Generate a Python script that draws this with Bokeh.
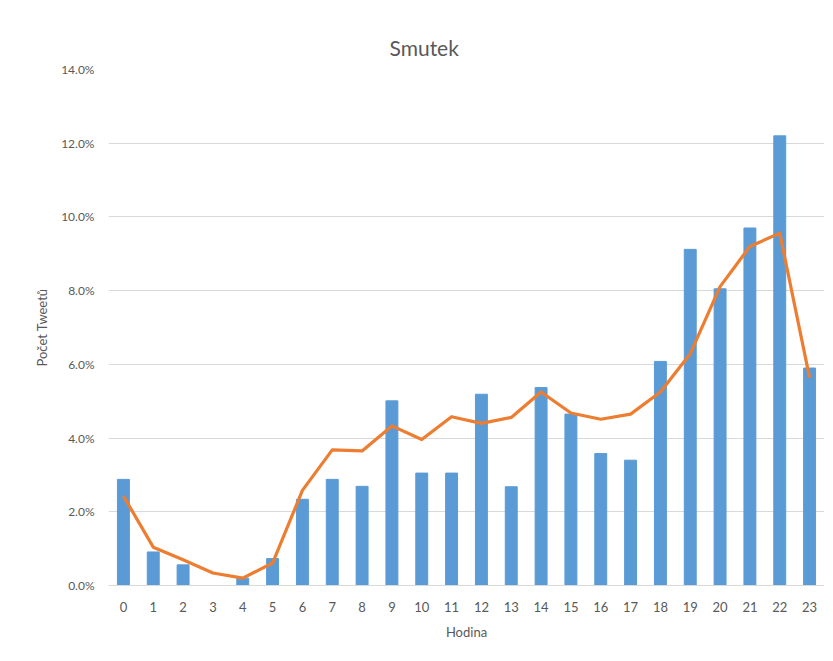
from bokeh.plotting import figure
from bokeh.models import Range1d, FactorRange, PrintfTickFormatter
from bokeh.embed import file_html
from bokeh.resources import INLINE

hours = [str(h) for h in range(24)]
bar_values = [2.88, 0.91, 0.56, 0.0, 0.20, 0.73, 2.34, 2.88, 2.69, 5.01,
              3.05, 3.05, 5.19, 2.68, 5.37, 4.65, 3.58, 3.40, 6.08, 9.12,
              8.05, 9.70, 12.20, 5.90]
line_values = [2.43, 1.04, 0.70, 0.34, 0.20, 0.61, 2.58, 3.68, 3.65, 4.33,
               3.96, 4.58, 4.40, 4.56, 5.25, 4.68, 4.51, 4.65, 5.25, 6.29,
               8.11, 9.20, 9.56, 5.64]
y_ticks = [0, 2, 4, 6, 8, 10, 12, 14]

FONT = "Lato"
GREY = "#595959"

p = figure(width=824, height=645, output_backend="svg", toolbar_location=None,
           x_range=FactorRange(*hours, range_padding=0),
           y_range=Range1d(0, 14),
           min_border_left=108, min_border_right=0,
           min_border_top=69, min_border_bottom=60,
           title="Smutek")

p.vbar(x=hours, top=bar_values, width=0.4, color="#5B9BD5")
p.line(x=hours, y=line_values, line_width=3.2, color="#ED7D31", line_join="round")

p.outline_line_color = None
p.title.text_font = FONT
p.title.text_font_size = "21px"
p.title.text_font_style = "normal"
p.title.text_color = GREY
p.title.align = "left"
p.title.offset = 281
p.title.standoff = 20

p.xgrid.grid_line_color = None
p.ygrid.grid_line_color = "#D9D9D9"
p.ygrid.ticker = y_ticks

p.yaxis.ticker = y_ticks
p.yaxis.formatter = PrintfTickFormatter(format="%.1f%%")
p.yaxis.axis_line_color = None
p.yaxis.major_tick_line_color = None
p.yaxis.minor_tick_line_color = None
p.yaxis.major_label_standoff = 8
p.yaxis.major_label_text_font = FONT
p.yaxis.major_label_text_font_size = "12px"
p.yaxis.major_label_text_color = GREY
p.yaxis.axis_label = "Počet Tweetů"
p.yaxis.axis_label_text_font = FONT
p.yaxis.axis_label_text_font_size = "13px"
p.yaxis.axis_label_text_font_style = "normal"
p.yaxis.axis_label_text_color = GREY
p.yaxis.axis_label_standoff = 8

p.xaxis.axis_line_color = "#D9D9D9"
p.xaxis.major_tick_line_color = None
p.xaxis.minor_tick_line_color = None
p.xaxis.major_label_standoff = 10
p.xaxis.major_label_text_font = FONT
p.xaxis.major_label_text_font_size = "13px"
p.xaxis.major_label_text_color = GREY
p.xaxis.axis_label = "Hodina"
p.xaxis.axis_label_text_font = FONT
p.xaxis.axis_label_text_font_size = "13px"
p.xaxis.axis_label_text_font_style = "normal"
p.xaxis.axis_label_text_color = GREY
p.xaxis.axis_label_standoff = 9

open("out.html", "w").write(file_html(p, INLINE))
